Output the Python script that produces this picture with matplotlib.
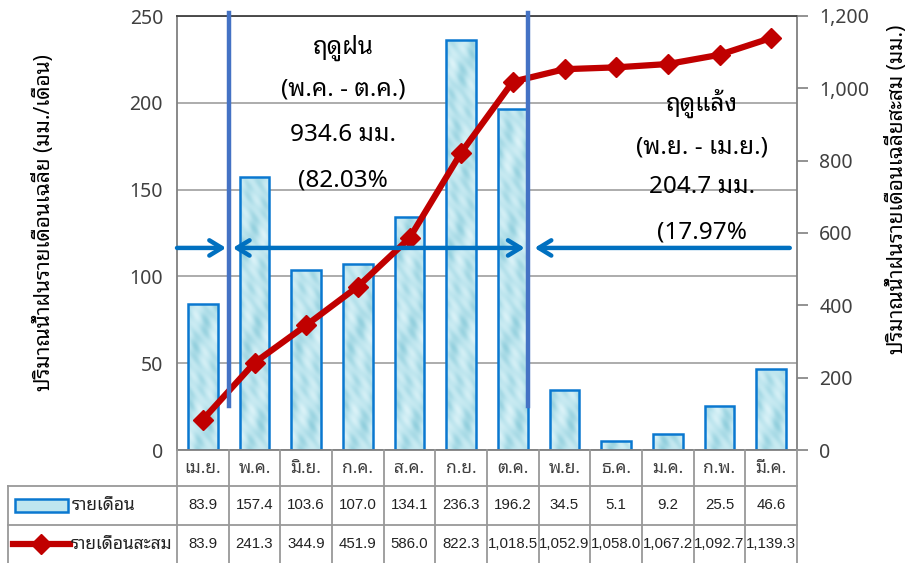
import matplotlib
matplotlib.use("Agg")
import numpy as np
import matplotlib.pyplot as plt
import matplotlib.transforms as mtransforms
from matplotlib import font_manager as fm
from matplotlib.ft2font import FT2Font
from matplotlib.colors import LinearSegmentedColormap
from matplotlib.patches import Rectangle
from matplotlib.lines import Line2D

# ---- data ----
months = ["เม.ย.", "พ.ค.", "มิ.ย.", "ก.ค.", "ส.ค.", "ก.ย.", "ต.ค.",
          "พ.ย.", "ธ.ค.", "ม.ค.", "ก.พ.", "มี.ค."]
monthly = [83.9, 157.4, 103.6, 107.0, 134.1, 236.3, 196.2, 34.5, 5.1, 9.2, 25.5, 46.6]
cumulative = [83.9, 241.3, 344.9, 451.9, 586.0, 822.3, 1018.5, 1052.9, 1058.0,
              1067.2, 1092.7, 1139.3]
monthly_labels = ["83.9", "157.4", "103.6", "107.0", "134.1", "236.3", "196.2",
                  "34.5", "5.1", "9.2", "25.5", "46.6"]
cumulative_labels = ["83.9", "241.3", "344.9", "451.9", "586.0", "822.3", "1,018.5",
                     "1,052.9", "1,058.0", "1,067.2", "1,092.7", "1,139.3"]
series_names = ["รายเดือน", "รายเดือนสะสม"]
left_ticks = [0, 50, 100, 150, 200, 250]
right_ticks = [0, 200, 400, 600, 800, 1000, 1200]
left_title = "ปริมาณน้ำฝนรายเดือนเฉลี่ย (มม./เดือน)"
right_title = "ปริมาณน้ำฝนรายเดือนเฉลี่ยสะสม (มม.)"
wet_text = ["ฤดูฝน", "(พ.ค. - ต.ค.)", "934.6 มม.", "(82.03%"]
dry_text = ["ฤดูแล้ง", "(พ.ย. - เม.ย.)", "204.7 มม.", "(17.97%"]


def thai_fonts():
    """Return {family: set(weights)} for installed fonts covering Thai."""
    found = {}
    for f in fm.fontManager.ttflist:
        try:
            cmap = FT2Font(f.fname).get_charmap()
        except Exception:
            continue
        if all(c in cmap for c in (0x0E01, 0x0E24, 0x0E40, 0x0E49)):
            w = f.weight if isinstance(f.weight, int) else 400
            found.setdefault(f.name, set()).add(w)
    return found


def pick_thai_font():
    found = thai_fonts()
    if not found:
        return None, False
    preferred = ["Leelawadee UI", "Leelawadee", "Tahoma", "Noto Sans Thai Looped",
                 "Noto Sans Thai UI", "Loma", "Garuda", "Umpush", "Tlwg Typo",
                 "Sarabun", "Noto Sans Thai", "Noto Serif Thai"]
    name = next((p for p in preferred if p in found), None)
    if name is None:
        bold = [n for n, ws in found.items() if max(ws) >= 600]
        name = bold[0] if bold else next(iter(found))
    return name, max(found[name]) >= 600


def latin_sans():
    path = fm.findfont(fm.FontProperties(family="Liberation Sans"),
                       fallback_to_default=True)
    return "Liberation Sans" if "LiberationSans" in path.replace(" ", "") else "DejaVu Sans"


thai, has_bold = pick_thai_font()
fam = [thai, "DejaVu Sans"] if thai else ["DejaVu Sans"]
num_fam = [latin_sans()]
heavy = "bold" if has_bold else "normal"
plt.rcParams["font.family"] = fam

W, H = 910, 563
fig = plt.figure(figsize=(W / 100, H / 100), dpi=100)
ax_l, ax_r, ax_t, ax_b = 177, 797, 16, 450
ax = fig.add_axes([ax_l / W, 1 - ax_b / H, (ax_r - ax_l) / W, (ax_b - ax_t) / H])
ax2 = ax.twinx()

x = list(range(len(months)))
bar_fill = "#bfe6ef"
bar_edge = "#0a78d0"
bar_w = 0.57
bars = ax.bar(x, monthly, width=bar_w, color=bar_fill, edgecolor="none", zorder=2)

# water-drop style fill for the bars
water = LinearSegmentedColormap.from_list("water", ["#92cfdd", "#bde5ee", "#dcf3f8"])
yy, xx = np.mgrid[0:240, 0:40]
tex = (np.sin(xx / 3.1 + yy / 7.3) + np.sin(yy / 4.7 - xx / 5.9)
       + 0.6 * np.sin((xx + 2 * yy) / 2.3) + 0.8 * np.cos(xx / 6.5 - yy / 11.0))
for rect, v in zip(bars, monthly):
    x0 = rect.get_x()
    img = ax.imshow(tex[: max(4, int(v)), :], cmap=water, extent=[x0, x0 + bar_w, 0, v],
                    aspect="auto", origin="lower", zorder=2.1, interpolation="bilinear")
    img.set_clip_path(rect)
    ax.add_patch(Rectangle((x0, 0), bar_w, v, facecolor="none", edgecolor=bar_edge,
                           linewidth=1.8, zorder=2.2))

ax.set_xlim(-0.5, len(months) - 0.5)
ax.set_ylim(0, 250)
ax.set_yticks(left_ticks)
ax.set_xticks([])
ax.yaxis.grid(True, color="#a6a6a6", linewidth=1.3, zorder=0)
ax.set_axisbelow(True)
ax.tick_params(axis="y", length=0, labelsize=14, pad=10, colors="#404040")
for s in ["top", "bottom", "left", "right"]:
    ax.spines[s].set_color("#808080")
    ax.spines[s].set_linewidth(1.3)
ax.spines["top"].set_color("#404040")

# cumulative line on the secondary axis
ax2.plot(x, cumulative, color="#c00000", linewidth=4.5, marker="D", markersize=10.5,
         zorder=3)
ax2.set_ylim(0, 1200)
ax2.set_yticks(right_ticks)
ax2.set_yticklabels([f"{v:,}" for v in right_ticks])
ax2.tick_params(axis="y", length=8, width=1.2, color="#808080", labelsize=14, pad=8,
                labelcolor="#404040")
for s in ["top", "bottom", "left", "right"]:
    ax2.spines[s].set_visible(False)
k = 1200 / 250  # left-axis units -> right-axis units

# axis titles
fig.text(44 / W, 1 - 223 / H, left_title, rotation=90, ha="center", va="center",
         fontsize=15, fontweight=heavy, family=fam)
fig.text(897 / W, 1 - 189 / H, right_title, rotation=90, ha="center", va="center",
         fontsize=15, fontweight=heavy, family=fam)

# season dividers (drawn above the cumulative line)
div_col = "#4472c4"
for xd in (0.5, 6.3):
    ax2.plot([xd, xd], [25.5 * k, 252 * k], color=div_col, linewidth=3.2, zorder=6,
             clip_on=False)

# season span arrows
arr_col = "#0070c0"
ya = 116.4 * k
arrow_kw = dict(color=arr_col, linewidth=3.2, shrinkA=0, shrinkB=0)
head = "head_length=0.9,head_width=0.55"
ax2.annotate("", xy=(0.45, ya), xytext=(-0.5, ya),
             arrowprops=dict(arrowstyle="->," + head, **arrow_kw),
             zorder=6, annotation_clip=False)
ax2.annotate("", xy=(6.23, ya), xytext=(0.58, ya),
             arrowprops=dict(arrowstyle="<->," + head, **arrow_kw), zorder=6)
ax2.annotate("", xy=(6.42, ya), xytext=(11.36, ya),
             arrowprops=dict(arrowstyle="->," + head, **arrow_kw), zorder=6)

# season annotations
for txt, yv in zip(wet_text, [231.6, 207.4, 181.5, 155.5]):
    ax2.text(2.71, yv * k, txt, ha="center", va="center", fontsize=17.5, fontweight=heavy,
             color="#000000", zorder=7)
for txt, yv in zip(dry_text, [199.9, 174.5, 151.5, 125.0]):
    ax2.text(9.66, yv * k, txt, ha="center", va="center", fontsize=17.5, fontweight=heavy,
             color="#000000", zorder=7)

# ---- data table under the plot ----
bt = mtransforms.blended_transform_factory(ax.transData, fig.transFigure)


def fy(py):
    return 1 - py / H


grid_col = "#999999"
label_left = -3.78
row_lines = [486, 525]
table_bottom = 570
for kk in range(len(months) + 1):
    xb = -0.5 + kk
    fig.add_artist(Line2D([xb, xb], [fy(ax_b), fy(table_bottom)], transform=bt,
                          color=grid_col, linewidth=1.3))
fig.add_artist(Line2D([label_left, label_left], [fy(row_lines[0]), fy(table_bottom)],
                      transform=bt, color=grid_col, linewidth=1.3))
for ry in row_lines:
    fig.add_artist(Line2D([label_left, len(months) - 0.5], [fy(ry), fy(ry)], transform=bt,
                          color=grid_col, linewidth=1.3))

for i, m in enumerate(months):
    fig.text(i, fy(468), m, transform=bt, ha="center", va="center", fontsize=12.5,
             color="#404040", family=fam)
    fig.text(i, fy(505), monthly_labels[i], transform=bt, ha="center", va="center",
             fontsize=10.8, color="#222222", family=num_fam)
    fig.text(i, fy(544), cumulative_labels[i], transform=bt, ha="center", va="center",
             fontsize=10.8, color="#222222", family=num_fam)

# legend keys inside the row-label cells
fig.add_artist(Rectangle((15 / W, fy(512)), 53 / W, 13 / H, transform=fig.transFigure,
                         facecolor=bar_fill, edgecolor=bar_edge, linewidth=1.8))
fig.text(72 / W, fy(505), series_names[0], ha="left", va="center", fontsize=12.5,
         color="#222222", family=fam)
fig.add_artist(Line2D([13 / W, 70 / W], [fy(544), fy(544)], transform=fig.transFigure,
                      color="#c00000", linewidth=4.5))
fig.add_artist(Line2D([41 / W], [fy(544)], transform=fig.transFigure, color="#c00000",
                      marker="D", markersize=10.5, linestyle="none"))
fig.text(71 / W, fy(544), series_names[1], ha="left", va="center", fontsize=12.5,
         color="#222222", family=fam)

fig.savefig("out.png", dpi=100)
